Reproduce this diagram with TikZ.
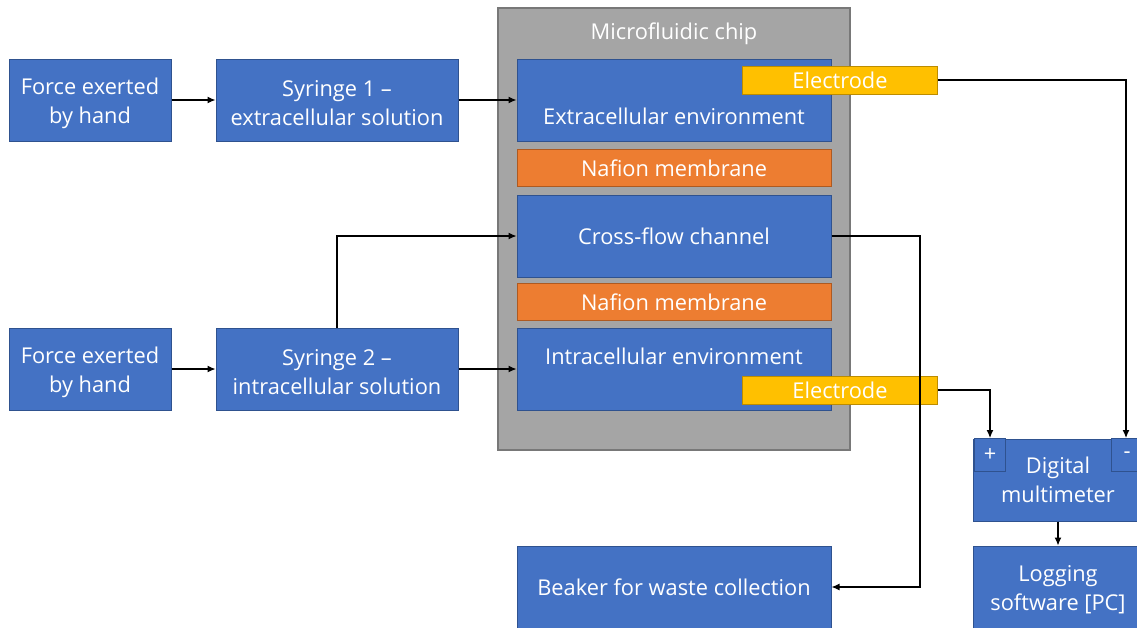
\documentclass[tikz,border=0pt]{standalone}
\usepackage{fontspec}
\setmainfont{Open Sans}
\usepackage{xcolor}
\usepackage{tikz}
\usetikzlibrary{arrows.meta}

\definecolor{bluefill}{HTML}{4472C4}
\definecolor{blueedge}{HTML}{2F528F}
\definecolor{orangefill}{HTML}{ED7D31}
\definecolor{orangeedge}{HTML}{AE5A21}
\definecolor{yellowfill}{HTML}{FFC000}
\definecolor{yellowedge}{HTML}{BC8C00}
\definecolor{chipfill}{HTML}{A5A5A5}
\definecolor{chipedge}{HTML}{787878}

\begin{document}
\begin{tikzpicture}[x=1pt, y=-1pt,
    font=\fontsize{21.8}{29}\selectfont,
    blk/.style={draw=blueedge, fill=bluefill, text=white, align=center, inner sep=0pt, line width=1pt},
    inner text/.style={text=white, align=center, yshift=#1},
    membrane/.style={draw=orangeedge, fill=orangefill, text=white, inner sep=0pt, line width=1pt,
        minimum width=314, minimum height=37},
    electrode/.style={draw=yellowedge, fill=yellowfill, text=white, inner sep=0pt, line width=1pt,
        minimum width=195, minimum height=28},
    link/.style={-{Latex[length=8pt,width=7pt]}, line width=1.2pt}]
    \useasboundingbox (0,0) rectangle (1137,627);

    % chip
    \node[draw=chipedge, fill=chipfill, line width=1.5pt, minimum width=352, minimum height=442, inner sep=0pt] (chip) at (674,229) {};
    \node[text=white] (chiptitle) at (674,34) {Microfluidic chip};

    % blocks inside the chip
    \node[blk, minimum width=314, minimum height=82,
        label={[inner text=-16pt]center:Extracellular environment}] (extra) at (674,100) {};
    \node[membrane] (naf1) at (674,168) {Nafion membrane};
    \node[blk, minimum width=314, minimum height=82] (cross) at (674,236) {Cross-flow channel};
    \node[membrane] (naf2) at (674,302) {Nafion membrane};
    \node[blk, minimum width=314, minimum height=82,
        label={[inner text=13pt]center:Intracellular environment}] (intra) at (674,369) {};
    \node[electrode] (elec1) at (840,80) {Electrode};
    \node[electrode] (elec2) at (840,390) {Electrode};

    % inputs
    \node[blk, minimum width=162, minimum height=82,
        label={[inner text=-3.5pt]center:Force exerted\\by hand}] (hand1) at (90,100) {};
    \node[blk, minimum width=242, minimum height=82,
        label={[inner text=-3.5pt]center:Syringe 1 --\\extracellular solution}] (syr1) at (337,100) {};
    \node[blk, minimum width=162, minimum height=82,
        label={[inner text=-3.5pt]center:Force exerted\\by hand}] (hand2) at (90,369) {};
    \node[blk, minimum width=242, minimum height=82,
        label={[inner text=-3.5pt]center:Syringe 2 --\\intracellular solution}] (syr2) at (337,369) {};

    % outputs
    \node[blk, minimum width=314, minimum height=82] (beaker) at (674,587) {Beaker for waste collection};
    \node[blk, minimum width=170, minimum height=82] (dmm) at (1058,480) {Digital\\multimeter};
    \node[blk, minimum width=31, minimum height=33] (plus) at (990,455) {+};
    \node[blk, minimum width=31, minimum height=33, anchor=west] (minus) at (1111,455) {-};
    \node[blk, minimum width=170, minimum height=82,
        label={[inner text=-3pt]center:Logging\\software [PC]}] (logpc) at (1058,587) {};

    \coordinate (drop) at (920,236);

    % connectors
    \draw[link] (hand1) -- (syr1);
    \draw[link] (syr1) -- (extra);
    \draw[link] (hand2) -- (syr2);
    \draw[link] (syr2) -- (intra);
    \draw[link] (syr2.north) |- (cross.west);
    \draw[link] (cross.east) -- (drop) |- (beaker.east);
    \draw[link] (elec1.east) -| (minus.north -| 1126,0);
    \draw[link] (elec2.east) -| (plus.north);
    \draw[link] (dmm) -- (logpc);
\end{tikzpicture}
\end{document}
